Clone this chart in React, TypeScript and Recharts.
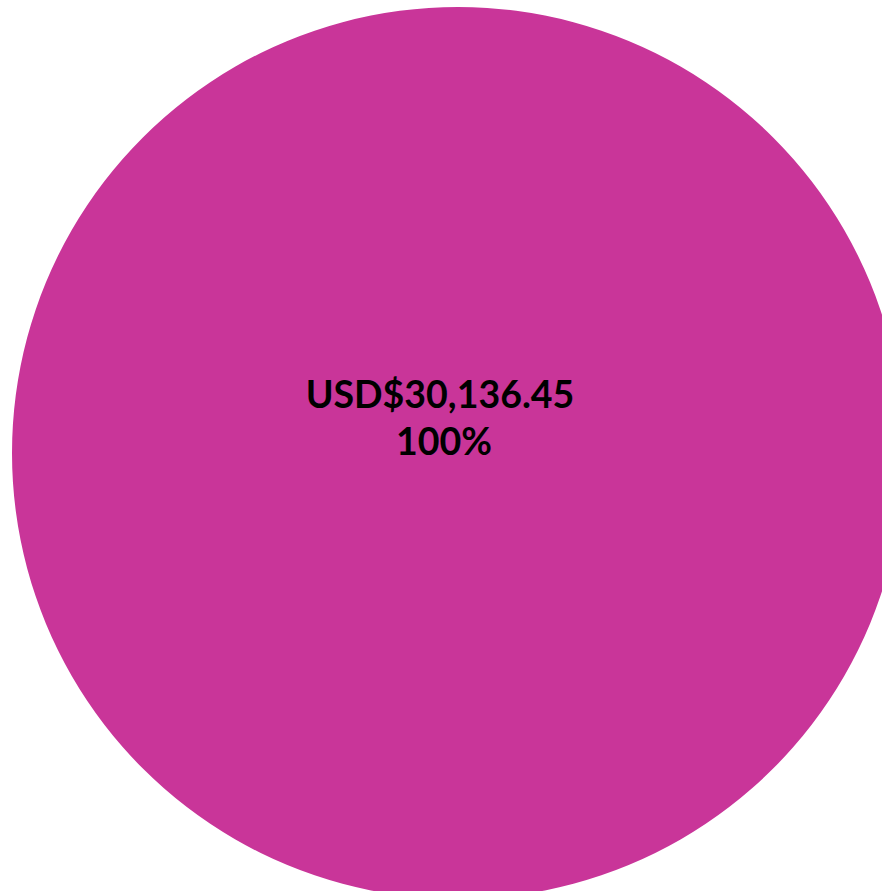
import { PieChart, Pie, Cell } from "recharts";

const labels = ["Total"];
const values = [30136.45];
const colors = ["#C93599"];

const data = labels.map((name, i) => ({ name, value: values[i] }));

const fmt = (v: number) =>
  "USD$" +
  v.toLocaleString("en-US", { minimumFractionDigits: 2, maximumFractionDigits: 2 });

const renderLabel = (props: any) => {
  const { cx, cy, value, percent } = props;
  const x = cx - 18;
  return (
    <text
      x={x}
      y={cy}
      textAnchor="middle"
      fill="#000"
      fontFamily="Lato, 'Open Sans', sans-serif"
      fontWeight={700}
      fontSize={37.5}
    >
      <tspan x={x} y={cy - 45}>
        {fmt(value)}
      </tspan>
      <tspan x={x + 4} y={cy + 2}>
        {Math.round(percent * 100)}%
      </tspan>
    </text>
  );
};

export default function App() {
  return (
    <div style={{ width: 882, height: 891, overflow: "hidden", background: "#fff" }}>
      <style>{`body{margin:0}`}</style>
      <PieChart width={882} height={891}>
        <Pie
          data={data}
          dataKey="value"
          nameKey="name"
          cx={453}
          cy={448}
          outerRadius={446}
          startAngle={90}
          endAngle={-270}
          stroke="none"
          label={renderLabel}
          labelLine={false}
          isAnimationActive={false}
        >
          {data.map((d, i) => (
            <Cell key={d.name} fill={colors[i]} />
          ))}
        </Pie>
      </PieChart>
    </div>
  );
}
